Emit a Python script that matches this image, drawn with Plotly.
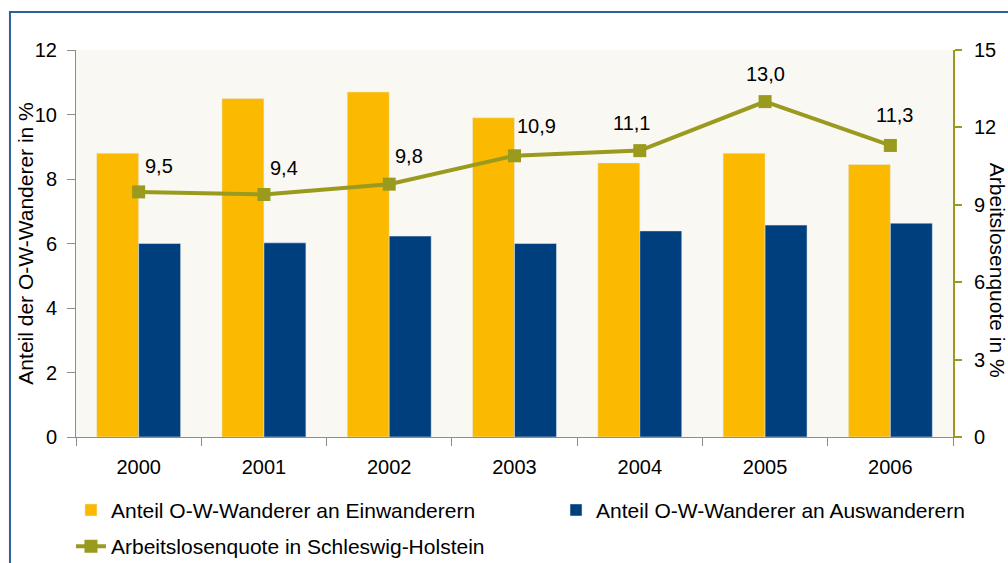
import plotly.graph_objects as go

# data
years = ["2000", "2001", "2002", "2003", "2004", "2005", "2006"]
einwanderer = [8.8, 10.5, 10.7, 9.9, 8.5, 8.8, 8.45]
auswanderer = [6.0, 6.02, 6.23, 6.0, 6.39, 6.57, 6.63]
quote = [9.5, 9.4, 9.8, 10.9, 11.1, 13.0, 11.3]
quote_labels = ["9,5", "9,4", "9,8", "10,9", "11,1", "13,0", "11,3"]

ORANGE = "#FBBA00"
BLUE = "#003F7D"
OLIVE = "#9A9A1F"
GREY = "#8C8C8C"
FONT = "Liberation Sans, Arial, sans-serif"
FS = 20   # ticks / labels
FT = 21   # titles / legend

xs = list(range(len(years)))

fig = go.Figure()
fig.add_trace(go.Bar(x=xs, y=einwanderer, name="Anteil O-W-Wanderer an Einwanderern",
                     marker_color=ORANGE, legend="legend", legendgroup="a"))
fig.add_trace(go.Bar(x=xs, y=auswanderer, name="Anteil O-W-Wanderer an Auswanderern",
                     marker_color=BLUE, legend="legend2"))
fig.add_trace(go.Scatter(x=xs, y=quote, name="Arbeitslosenquote in Schleswig-Holstein",
                         yaxis="y2", mode="lines+markers", legend="legend", legendgroup="b",
                         line=dict(color=OLIVE, width=4),
                         marker=dict(symbol="square", size=13, color=OLIVE)))

# value labels for the line, nudged like in the original
shifts = [(20, 26), (20, 26), (20, 28), (22, 30), (-8, 28), (0, 28), (4, 30)]
for xi, q, lab, (dx, dy) in zip(xs, quote, quote_labels, shifts):
    fig.add_annotation(x=xi, y=q, xref="x", yref="y2", text=lab, showarrow=False,
                       xshift=dx, yshift=dy, font=dict(size=FS, color="black"))

# axis titles as annotations (right one reads top to bottom)
fig.add_annotation(x=-0.058, y=0.5, xref="paper", yref="paper", xanchor="center",
                   text="Anteil der O-W-Wanderer in %", textangle=-90, showarrow=False,
                   font=dict(size=FT, color="black"))
fig.add_annotation(x=1.051, y=0.43, xref="paper", yref="paper", xanchor="center",
                   text="Arbeitslosenquote in %", textangle=90, showarrow=False,
                   font=dict(size=FT, color="black"))

# blue frame around the chart
fig.add_shape(type="rect", xref="paper", yref="paper", x0=-0.0753, y0=-0.4, x1=1.2, y1=1.098,
              line=dict(color="#2E5E9E", width=2), fillcolor="rgba(0,0,0,0)", layer="below")

leg = dict(orientation="v", xref="container", yref="container", yanchor="top", xanchor="left",
           y=0.13, font=dict(size=FT), itemclick=False, bgcolor="rgba(0,0,0,0)",
           tracegroupgap=6, traceorder="grouped")

fig.update_layout(
    width=1008, height=563,
    margin=dict(l=76, r=55, t=50, b=126, autoexpand=False),
    paper_bgcolor="white", plot_bgcolor="#F9F8F3",
    font=dict(family=FONT, size=FS, color="black"),
    barmode="group", bargap=0.33, bargroupgap=0,
    showlegend=True,
    legend=dict(leg, x=0.0704),
    legend2=dict(leg, x=0.5516),
    xaxis=dict(range=[-0.5, 6.5], tickvals=xs, ticktext=years, ticks="",
               ticklabelstandoff=12,
               minor=dict(tick0=0.5, dtick=1, ticks="outside", ticklen=8, tickcolor=GREY,
                          showgrid=False),
               showline=True, linecolor=GREY, linewidth=1, showgrid=False,
               zeroline=False, automargin=False, tickfont=dict(size=FS)),
    yaxis=dict(range=[0, 12], dtick=2, showline=True, linecolor=GREY, linewidth=1,
               ticks="outside", ticklen=8, tickcolor=GREY, showgrid=False,
               ticklabelstandoff=6,
               zeroline=False, automargin=False, tickfont=dict(size=FS)),
    yaxis2=dict(range=[0, 15], dtick=3, overlaying="y", side="right", showline=True,
                linecolor=OLIVE, linewidth=2, ticks="outside", ticklen=7, tickwidth=2,
                ticklabelstandoff=8,
                tickcolor=OLIVE, showgrid=False, zeroline=False, automargin=False,
                tickfont=dict(size=FS)),
)

fig.write_html("out.html", config={"displayModeBar": False},
               post_script="document.body.style.margin='0';")
